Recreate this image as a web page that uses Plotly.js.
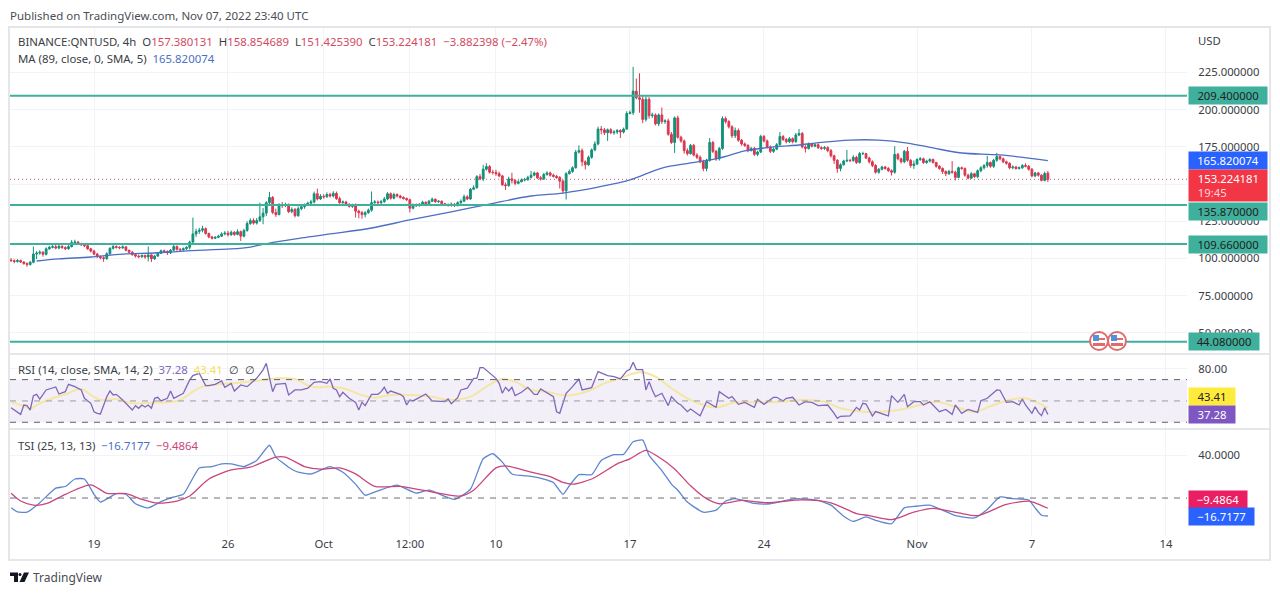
<!DOCTYPE html>
<html>
<head>
<meta charset="utf-8">
<script src="https://cdn.plot.ly/plotly-3.0.1.min.js"></script>
<style>html,body{margin:0;padding:0;background:#fff;overflow:hidden}#chart{width:1280px;height:595px}</style>
</head>
<body>
<div id="chart"></div>
<script>
// Candles: 4h bars, first bar 2022-09-14 16:00 UTC. Rows are calendar days.
const closes = [98.5,98.0,
98.6,97.6,96.6,96.0,97.5,103.0,
103.6,104.2,102.8,106.5,107.5,107.9,
107.0,108.2,107.4,106.6,108.0,110.8,
111.0,110.0,109.3,108.6,106.5,105.0,
103.0,101.2,100.5,100.0,103.2,106.8,
108.0,107.5,107.2,107.8,105.5,104.2,
102.6,101.6,101.2,102.0,101.0,102.4,
99.8,101.6,103.4,105.2,104.8,103.8,
105.6,108.0,106.2,105.8,106.6,107.5,
111.0,116.5,118.2,119.0,120.0,116.8,
114.5,113.6,114.2,115.0,116.5,117.0,
116.0,117.6,116.2,118.0,115.0,118.8,
123.5,125.5,123.8,125.5,128.0,130.5,
137.5,141.0,131.0,129.5,136.0,135.5,
135.8,131.5,133.0,128.8,133.5,134.8,
136.0,137.2,138.0,143.5,140.0,141.8,
141.5,143.0,142.0,143.8,140.2,137.5,
138.0,136.2,135.0,136.0,131.8,130.8,
129.5,130.8,132.5,137.5,138.0,137.5,
138.2,140.0,143.5,140.5,143.0,142.0,
141.0,140.3,139.5,133.8,136.2,135.5,
136.5,137.8,136.8,138.5,139.8,138.2,
138.5,136.8,136.2,135.8,136.5,135.5,
137.5,138.5,141.5,140.0,146.5,147.5,
155.0,153.5,160.0,161.8,158.0,157.8,
157.0,155.5,149.5,149.0,153.5,152.5,
150.5,151.5,152.8,153.0,154.5,156.0,
157.5,154.2,153.5,156.5,157.5,156.0,
155.2,154.5,152.0,145.5,157.0,158.5,
161.0,171.5,172.5,165.0,163.0,168.0,
173.0,177.0,187.0,186.5,184.5,186.5,
184.5,185.0,186.0,185.0,187.0,197.5,
198.0,212.5,208.0,207.0,193.5,207.0,
196.0,196.5,190.5,196.5,192.0,192.5,
183.5,178.0,194.5,181.5,179.0,172.5,
170.5,176.0,169.5,168.0,165.0,160.5,
166.0,178.0,172.0,167.0,174.0,194.0,
192.0,188.5,182.5,186.0,179.5,177.0,
176.0,172.5,174.0,170.0,171.5,182.0,
179.0,175.0,172.0,173.5,176.5,182.0,
180.0,178.5,180.5,178.5,183.0,184.0,
175.0,174.0,177.0,175.5,176.5,174.5,
174.0,174.5,172.5,169.0,166.0,160.5,
163.0,165.5,166.0,165.8,168.0,164.5,
170.5,170.5,167.5,165.0,162.5,158.0,
160.0,161.5,160.5,159.0,158.0,170.0,
167.0,165.0,172.0,166.0,162.5,163.5,
166.5,167.0,164.5,165.5,166.5,164.5,
162.0,160.5,158.5,157.0,158.5,158.0,
154.5,161.0,160.5,156.0,154.0,157.0,
155.0,159.0,161.0,162.5,164.5,162.0,
166.0,168.5,167.0,165.0,164.0,161.0,
161.5,160.5,161.0,162.5,162.0,160.0,
155.5,157.5,156.0,152.5,157.1,153.224181];

const opens = [98.9,98.5,
98.0,98.6,97.6,96.6,96.0,97.5,
103.0,103.6,104.2,102.8,106.5,107.5,
107.9,107.0,108.2,107.4,106.6,108.0,
110.8,111.0,110.0,109.3,108.6,106.5,
105.0,103.0,101.2,100.5,100.0,103.2,
106.8,108.0,107.5,107.2,107.8,105.5,
104.2,102.6,101.6,101.2,102.0,101.0,
102.4,99.8,101.6,103.4,105.2,104.8,
103.8,105.6,108.0,106.2,105.8,106.6,
107.5,111.0,116.5,118.2,119.0,120.0,
116.8,114.5,113.6,114.2,115.0,116.5,
117.0,116.0,117.6,116.2,118.0,115.0,
118.8,123.5,125.5,123.8,125.5,128.0,
130.5,137.5,141.0,131.0,129.5,136.0,
135.5,135.8,131.5,133.0,128.8,133.5,
134.8,136.0,137.2,138.0,143.5,140.0,
141.8,141.5,143.0,142.0,143.8,140.2,
137.5,138.0,136.2,135.0,136.0,131.8,
130.8,129.5,130.8,132.5,137.5,138.0,
137.5,138.2,140.0,143.5,140.5,143.0,
142.0,141.0,140.3,139.5,133.8,136.2,
135.5,136.5,137.8,136.8,138.5,139.8,
138.2,138.5,136.8,136.2,135.8,136.5,
135.5,137.5,138.5,141.5,140.0,146.5,
147.5,155.0,153.5,160.0,161.8,158.0,
157.8,157.0,155.5,149.5,149.0,153.5,
152.5,150.5,151.5,152.8,153.0,154.5,
156.0,157.5,154.2,153.5,156.5,157.5,
156.0,155.2,154.5,152.0,145.5,157.0,
158.5,161.0,171.5,172.5,165.0,163.0,
168.0,173.0,177.0,187.0,186.5,184.5,
186.5,184.5,185.0,186.0,185.0,187.0,
197.5,198.0,212.5,208.0,207.0,193.5,
207.0,196.0,196.5,190.5,196.5,192.0,
192.5,183.5,178.0,194.5,181.5,179.0,
172.5,170.5,176.0,169.5,168.0,165.0,
160.5,166.0,178.0,172.0,167.0,174.0,
194.0,192.0,188.5,182.5,186.0,179.5,
177.0,176.0,172.5,174.0,170.0,171.5,
182.0,179.0,175.0,172.0,173.5,176.5,
182.0,180.0,178.5,180.5,178.5,183.0,
184.0,175.0,174.0,177.0,175.5,176.5,
174.5,174.0,174.5,172.5,169.0,166.0,
160.5,163.0,165.5,166.0,165.8,168.0,
164.5,170.5,170.5,167.5,165.0,162.5,
158.0,160.0,161.5,160.5,159.0,158.0,
170.0,167.0,165.0,172.0,166.0,162.5,
163.5,166.5,167.0,164.5,165.5,166.5,
164.5,162.0,160.5,158.5,157.0,158.5,
158.0,154.5,161.0,160.5,156.0,154.0,
157.0,155.0,159.0,161.0,162.5,164.5,
162.0,166.0,168.5,167.0,165.0,164.0,
161.0,161.5,160.5,161.0,162.5,162.0,
160.0,155.5,157.5,156.0,152.5,157.380131];

const highs = [100.2,99.4,
99.6,99.3,98.2,97.4,98.4,108.0,
105.0,105.5,105.0,107.5,108.6,109.0,
109.2,109.5,108.8,108.2,109.0,112.4,
112.6,111.8,110.6,110.0,109.2,107.2,
105.8,103.8,102.0,101.4,104.2,107.6,
109.2,108.8,108.2,108.8,108.4,106.0,
105.0,103.2,102.6,102.8,102.6,108.0,
102.8,102.4,104.2,106.0,106.0,105.4,
106.4,109.4,108.8,107.0,107.4,108.2,
112.0,127.5,120.0,120.6,122.0,120.8,
117.4,115.2,115.0,116.0,117.6,118.4,
118.6,118.8,118.4,119.6,118.8,120.0,
125.0,127.0,127.0,127.2,137.5,134.0,
138.5,144.8,142.0,133.5,137.2,138.0,
137.5,137.0,134.4,134.0,135.0,136.0,
137.0,138.2,139.5,145.0,147.0,143.2,
143.2,144.4,144.2,145.2,145.0,141.6,
139.0,138.8,137.2,136.8,137.0,132.8,
132.0,131.8,133.6,145.0,139.2,139.0,
139.4,141.4,144.6,144.4,144.2,143.8,
142.8,141.8,141.0,140.2,137.0,137.0,
137.2,138.8,138.4,139.4,141.0,140.4,
139.2,139.0,137.4,137.0,137.6,137.2,
138.4,139.8,143.0,142.6,147.4,149.2,
156.0,156.8,163.0,164.0,162.8,159.6,
159.6,158.4,156.2,151.0,155.0,157.6,
153.2,152.6,153.8,154.2,155.6,158.8,
158.4,158.2,155.4,157.6,158.6,158.4,
157.0,156.2,155.4,153.0,158.0,159.8,
162.0,173.0,176.0,174.0,166.0,169.2,
174.0,178.8,188.6,189.0,187.8,187.4,
187.6,186.2,187.0,187.0,188.0,199.0,
199.5,228.8,221.0,224.5,209.0,209.0,
208.5,198.0,197.5,197.5,201.5,193.6,
194.0,185.0,195.5,196.0,182.5,180.0,
174.0,177.0,177.0,170.8,169.2,166.4,
167.0,181.0,179.0,173.0,175.0,195.6,
195.4,193.0,189.6,188.0,187.4,180.4,
178.0,176.8,175.0,175.0,172.4,183.2,
183.0,180.0,176.0,174.6,177.6,185.0,
183.0,181.0,181.6,181.4,184.4,187.0,
185.0,176.2,178.0,177.8,177.4,177.4,
175.4,175.6,175.4,173.6,169.8,166.8,
164.0,166.4,173.0,167.0,169.4,169.0,
171.6,171.8,171.0,168.4,166.0,163.4,
160.8,162.4,162.2,161.4,160.0,175.5,
171.0,167.8,173.0,175.0,166.8,165.8,
167.4,168.2,167.8,166.4,167.4,167.2,
165.0,162.8,161.2,159.2,159.6,165.5,
159.0,161.8,161.8,161.2,157.0,158.0,
157.6,159.8,162.0,163.4,169.0,165.2,
167.0,171.0,169.2,167.8,165.8,164.6,
162.6,162.2,161.8,163.4,164.0,162.8,
160.8,158.2,158.2,156.6,158.4,158.854689];

const lows = [98.0,96.8,
97.2,96.9,95.8,94.4,95.2,96.8,
99.6,102.6,101.2,102.0,105.8,106.8,
106.2,106.2,106.4,105.6,105.9,107.4,
110.0,109.2,108.4,107.6,105.8,104.0,
102.2,100.2,99.4,97.8,99.0,102.4,
106.0,106.6,106.2,106.4,104.8,103.2,
101.8,100.6,100.2,100.4,99.8,98.0,
97.6,99.0,101.2,103.2,103.6,102.4,
103.0,105.0,105.2,104.6,105.0,105.8,
106.0,110.0,114.5,116.5,117.6,116.0,
113.6,112.8,113.0,113.6,114.4,115.6,
114.8,115.2,115.2,115.6,111.8,114.2,
118.0,122.6,122.8,122.8,124.5,123.0,
128.5,136.5,129.8,128.0,129.0,134.0,
134.5,130.5,130.4,127.6,128.0,132.4,
133.4,135.4,136.6,137.0,139.0,139.4,
140.2,140.8,141.0,141.0,139.4,136.8,
136.8,135.4,134.2,134.0,127.5,127.0,
126.8,127.6,130.0,131.5,136.8,136.6,
136.6,137.4,139.2,139.6,139.8,141.0,
140.2,139.6,138.6,131.0,133.0,134.6,
134.8,135.8,136.0,136.2,138.0,137.4,
137.4,136.0,135.4,134.8,134.8,134.6,
135.0,136.6,138.0,139.2,139.4,146.0,
147.0,152.6,152.0,159.0,157.0,156.4,
155.6,154.6,148.8,146.0,148.2,150.4,
149.2,149.8,151.6,151.8,152.2,153.8,
155.2,153.4,152.4,152.8,155.6,155.0,
154.4,153.6,147.0,143.8,139.6,156.4,
157.6,160.4,170.6,162.0,159.8,162.2,
167.0,172.0,176.0,183.5,183.0,179.0,
183.6,183.2,183.6,181.0,184.0,186.5,
197.0,196.5,207.0,198.0,191.0,192.0,
194.0,194.5,189.5,189.0,190.5,190.5,
182.5,177.0,171.0,180.5,177.8,170.5,
169.2,169.8,168.6,166.8,164.0,158.6,
158.6,165.0,170.8,165.6,165.8,173.0,
190.6,187.4,181.0,181.0,178.4,175.8,
175.0,171.4,172.0,169.0,168.8,170.8,
178.0,174.0,170.8,171.0,172.8,175.8,
179.0,177.4,177.6,177.4,177.8,182.2,
174.0,171.2,173.2,174.6,174.8,173.6,
173.0,173.0,171.4,167.8,163.6,157.6,
158.6,162.4,164.8,164.8,165.0,163.6,
163.8,169.6,166.8,163.8,161.4,157.0,
157.0,159.2,159.6,158.2,155.8,157.0,
166.0,163.8,164.0,165.0,161.0,160.2,
162.8,165.6,163.6,163.6,164.6,163.8,
161.0,159.6,156.8,155.4,156.2,157.0,
152.5,154.0,159.6,155.0,153.2,153.4,
154.2,154.0,158.0,159.8,161.0,161.0,
160.8,165.0,166.0,164.0,163.0,160.0,
160.0,159.6,159.8,160.2,161.2,159.0,
154.6,154.6,155.0,151.8,151.8,151.425390];

// Moving average: bar number, value
const maBars = [8,15,25,35,45,54,69,75,81,91,100,113,125,138,150,163,173,184,194,204,213,222,230,239,247,252,263,272,281,289,298,310,325];
const maValues = [98.3,99.7,101,103,103.7,105,106.4,107.7,110.4,113.8,116.5,120.5,125.9,131.3,136.6,142,144,148,152.8,160.8,164.2,167.5,172.3,175,176.3,177.6,179.6,179.6,177.6,174.3,170.9,169.6,165.82];

// RSI line: bar number, value
const rsiBars = [0,2,3,4,5,6,7,8,9,11,14,15,17,18,20,22,23,25,26,27,28,30,31,32,33,35,38,39,40,41,42,43,44,45,46,47,49,50,51,54,56,57,59,61,62,64,66,67,69,70,72,74,77,79,80,82,83,86,87,89,91,93,95,97,99,100,
101,102,103,104,106,108,109,110,111,113,115,116,117,118,119,122,123,124,125,126,130,132,136,137,138,140,141,143,145,146,147,148,152,153,154,155,156,157,158,160,162,164,165,166,169,170,171,172,174,176,178,179,182,184,187,189,191,193,194,195,196,198,199,200,201,202,204,206,207,209,210,212,213,
216,218,221,222,225,226,228,230,233,234,236,239,240,242,243,245,247,249,251,253,256,258,259,260,263,265,266,267,268,270,271,275,276,278,280,281,283,285,286,288,291,293,295,296,298,300,303,304,306,309,310,312,314,316,317,318,320,321,322,323,324,325];
const rsiValues = [43.7,39.9,37.4,46.2,45.6,41.5,55.0,56.2,51.8,60.3,63.1,56.5,58.7,65.6,63.4,60.3,52.5,47.8,39.9,38.4,37.8,54.0,59.3,55.6,56.2,50.9,41.5,45.6,43.1,46.2,44.3,46.2,43.1,52.5,53.4,50.0,52.5,59.3,52.5,57.2,69.7,73.7,75.9,64.4,64.4,65.6,68.7,62.8,66.5,59.3,65.0,63.4,71.2,79.1,85.3,58.7,65.6,66.5,55.6,60.3,60.3,61.9,67.5,68.1,66.5,70.6,
61.9,60.3,54.0,58.1,52.5,48.7,41.5,48.7,45.6,56.2,56.2,58.7,62.8,57.2,59.3,56.2,54.0,46.2,50.9,50.0,56.5,50.0,49.4,51.8,47.4,53.1,60.3,61.9,71.2,71.2,81.3,81.3,71.2,66.5,57.2,62.8,59.3,62.8,55.0,58.1,62.8,56.2,56.2,61.2,56.2,54.0,39.9,38.4,57.2,63.4,70.6,60.3,62.5,77.5,73.7,72.8,70.6,78.1,79.7,86.3,79.4,79.4,60.3,68.1,60.3,54.0,57.2,45.6,54.0,47.8,46.2,39.9,42.4,
36.2,49.3,44.0,58.7,52.5,54.0,46.8,48.7,44.0,51.5,46.8,53.4,53.4,50.0,52.5,53.4,46.2,49.3,48.7,45.6,46.2,38.4,33.7,35.6,35.9,44.0,41.5,47.8,47.1,35.9,40.0,35.9,55.0,48.7,56.2,44.6,49.3,49.3,46.2,49.3,39.9,42.1,37.4,46.2,38.4,42.1,39.3,50.3,52.5,60.3,60.0,48.7,49.3,46.2,51.8,46.2,38.4,44.6,39.3,36.2,43.7,37.28];

// RSI smoothing line
const smaBars = [0,3,6,9,13,17,22,25,28,33,38,44,49,53,57,60,65,70,76,84,89,94,100,104,110,114,119,125,132,137,144,149,154,158,163,168,174,181,186,191,197,202,207,213,221,227,234,241,248,255,260,267,273,278,285,290,296,302,308,313,318,325];
const smaValues = [48.7,46.2,43.1,47.8,52.5,56.2,61.2,55.6,50.9,51.8,47.8,48.4,48.7,50.9,58.7,63.4,65.6,66.5,68.7,71.2,70.6,63.4,63.4,61.9,55.6,53.1,55.6,55.6,54.0,50.9,54.0,63.4,70.6,68.1,60.3,58.7,55.0,59.3,66.5,71.2,76.9,72.8,61.9,50.9,44.0,48.7,48.7,49.3,50.9,49.3,43.1,39.9,39.9,41.5,46.2,49.3,44.6,39.9,46.2,50.9,52.5,43.41];

// True strength index and its signal
const tsiBars = [0,2,5,9,14,17,20,23,26,28,33,36,39,43,47,51,54,59,63,66,69,73,77,81,83,87,90,94,100,104,108,111,115,121,127,131,139,144,148,151,154,157,163,
167,170,173,175,178,182,185,189,192,195,198,200,204,207,209,212,217,221,224,227,233,238,246,253,257,261,264,268,271,276,280,283,288,296,302,306,310,314,319,321,323,325];
const tsiValues = [-9.1,-12.9,-13.2,-4.4,9.2,10.7,17.7,17.7,3.5,-3.7,4.1,3.5,-5.3,-9.1,-3.4,1.0,3.5,28.0,29.3,31.8,31.8,29.3,35.0,49.1,38.1,28.7,24.0,22.4,29.3,24.0,12.9,2.6,6.7,12.0,4.5,7.3,-1.2,8.2,36.5,41.2,33.4,22.4,20.2,
17.7,14.5,3.5,11.4,21.7,21.7,35.0,40.3,40.6,52.3,53.8,39.7,25.5,13.0,7.3,-3.7,-13.2,-11.3,-2.8,-0.6,-5.0,-5.3,-0.6,-2.2,-6.6,-16.9,-21.7,-17.6,-20.7,-23.9,-9.1,-7.8,-6.6,-16.3,-18.5,-10.6,1.0,-0.6,-1.8,-9.1,-16.0,-16.7177];
const signalBars = [0,3,7,11,17,25,30,36,41,46,52,56,62,69,75,83,86,92,97,103,108,114,122,129,141,145,152,155,163,169,173,176,182,190,194,199,203,208,213,218,222,229,237,248,257,265,269,276,283,289,297,303,312,319,321,325];
const signalValues = [4.4,-2.8,-6.6,-5.3,3.5,12.3,4.4,4.1,-1.2,-4.7,-2.8,1.9,17.7,26.2,28.7,38.1,38.1,29.3,26.8,28.0,22.4,10.8,10.8,7.3,1.9,7.3,28.0,29.9,24.0,19.9,14.5,12.9,17.7,31.8,36.5,44.4,38.1,27.1,11.4,-0.6,-5.3,-2.2,-4.4,-1.8,-4.4,-14.4,-16.3,-20.1,-13.2,-9.7,-13.8,-16.3,-5.9,-2.8,-4.4,-9.4864];

// Horizontal support / resistance levels and axis labels
const levels = [209.4,135.87,109.66,44.08];
const levelLabels = ['209.400000','135.870000','109.660000','44.080000'];
const lastClose = 153.224181, lastMA = 165.820074, lastRSI = 37.28, lastSMA = 43.41, lastTSI = -16.7177, lastSignal = -9.4864;
const priceTicks = [50,75,100,125,150,175,200,225];
const priceTickText = ['50.000000','75.000000','100.000000','125.000000','','175.000000','200.000000','225.000000'];
const timeTicks = ['2022-09-19','2022-09-26','2022-10-01','2022-10-05 12:00','2022-10-10','2022-10-17','2022-10-24','2022-11-01','2022-11-07','2022-11-14'];
const timeTickText = ['19','26','Oct','12:00','10','17','24','Nov','7','14'];

const FONT = '"Noto Sans", sans-serif';
const W = 1280, H = 595;
const px = x => x / W, py = y => 1 - y / H;
const barTime = i => new Date(Date.UTC(2022, 8, 14, 16) + i * 4 * 3600000).toISOString().slice(0, 19).replace('T', ' ');
const times = closes.map((_, i) => barTime(i));
const atBars = list => list.map(barTime);

const traces = [
  {type:'candlestick', x:times, open:opens, high:highs, low:lows, close:closes, xaxis:'x', yaxis:'y',
   increasing:{line:{color:'#13907a',width:1}, fillcolor:'#13907a'},
   decreasing:{line:{color:'#d9384f',width:1}, fillcolor:'#d9384f'},
   whiskerwidth:0, hoverinfo:'skip', showlegend:false},
  {type:'scatter', mode:'lines', x:atBars(maBars), y:maValues, yaxis:'y', line:{color:'#4b6fc4',width:1.3,shape:'spline'}, hoverinfo:'skip'},
  {type:'scatter', mode:'lines', x:atBars(smaBars), y:smaValues, yaxis:'y2', line:{color:'#f5e6a3',width:2,shape:'spline'}, hoverinfo:'skip'},
  {type:'scatter', mode:'lines', x:atBars(rsiBars), y:rsiValues, yaxis:'y2', line:{color:'#8068b8',width:1.3}, hoverinfo:'skip'},
  {type:'scatter', mode:'lines', x:atBars(tsiBars), y:tsiValues, yaxis:'y3', line:{color:'#5e86cf',width:1.3,shape:'spline',smoothing:0.5}, hoverinfo:'skip'},
  {type:'scatter', mode:'lines', x:atBars(signalBars), y:signalValues, yaxis:'y3', line:{color:'#c9457c',width:1.3,shape:'spline',smoothing:0.7}, hoverinfo:'skip'}
];

const GREEN = '#3fb09c', LEFT = 10, RIGHT = 1187;
const shapes = [];
// Reference levels
levels.forEach(v => shapes.push({type:'line', xref:'paper', yref:'y', x0:px(LEFT), x1:px(RIGHT), y0:v, y1:v, layer:'above', line:{color:GREEN,width:2}}));
shapes.push({type:'line', xref:'paper', yref:'y', x0:px(LEFT), x1:px(RIGHT), y0:lastClose, y1:lastClose, layer:'above', line:{color:'#c9596b',width:1,dash:'1px,3px'}});
// RSI band and levels
shapes.push({type:'rect', xref:'paper', yref:'y2', x0:px(LEFT), x1:px(RIGHT), y0:30, y1:70, layer:'below', line:{width:0}, fillcolor:'#f2eff9'});
[[70,'#5d6068'],[50,'#9a9ca4'],[30,'#5d6068']].forEach(([v,c]) => shapes.push({type:'line', xref:'paper', yref:'y2', x0:px(LEFT), x1:px(RIGHT), y0:v, y1:v, layer:'above', line:{color:c,width:1,dash:'6px,6px'}}));
shapes.push({type:'line', xref:'paper', yref:'y3', x0:px(LEFT), x1:px(RIGHT), y0:0, y1:0, layer:'above', line:{color:'#6d7078',width:1,dash:'6px,6px'}});
// Frame and pane separators
const border = '#e4e6ea';
shapes.push({type:'rect', xref:'paper', yref:'paper', x0:px(9), x1:px(1270), y0:py(27), y1:py(560), layer:'above', line:{color:border,width:2}});
[354,429].forEach(y => shapes.push({type:'line', xref:'paper', yref:'paper', x0:px(9), x1:px(1270), y0:py(y), y1:py(y), layer:'above', line:{color:border,width:2}}));
// Event badges
[1099,1117].forEach(cx => {
  const cy = 341, r = 9;
  shapes.push({type:'circle', xref:'paper', yref:'paper', x0:px(cx-r), x1:px(cx+r), y0:py(cy+r), y1:py(cy-r), layer:'above', fillcolor:'#ffffff', line:{color:'#e06b6b',width:2}});
  shapes.push({type:'rect', xref:'paper', yref:'paper', x0:px(cx-6), x1:px(cx), y0:py(cy+0), y1:py(cy-6), layer:'above', fillcolor:'#4f93dc', line:{width:0}});
  shapes.push({type:'rect', xref:'paper', yref:'paper', x0:px(cx), x1:px(cx+6), y0:py(cy-1), y1:py(cy-3), layer:'above', fillcolor:'#e06b6b', line:{width:0}});
  shapes.push({type:'rect', xref:'paper', yref:'paper', x0:px(cx-6), x1:px(cx+6), y0:py(cy+5), y1:py(cy+2), layer:'above', fillcolor:'#e06b6b', line:{width:0}});
});
// TradingView logo
shapes.push({type:'path', xref:'paper', yref:'paper', layer:'above', line:{width:0}, fillcolor:'#131722',
  path:`M${px(10)},${py(572.5)} L${px(18)},${py(572.5)} L${px(18)},${py(582)} L${px(14)},${py(582)} L${px(14)},${py(576)} L${px(10)},${py(576)} Z`});
shapes.push({type:'circle', xref:'paper', yref:'paper', layer:'above', line:{width:0}, fillcolor:'#131722', x0:px(18.5), x1:px(21.5), y0:py(576), y1:py(573)});
shapes.push({type:'path', xref:'paper', yref:'paper', layer:'above', line:{width:0}, fillcolor:'#131722',
  path:`M${px(24)},${py(572.5)} L${px(29)},${py(572.5)} L${px(24.5)},${py(582)} L${px(19.5)},${py(582)} Z`});

const note = (x, y, text, size, color) => ({xref:'paper', yref:'paper', x:px(x-2), y:py(y), xanchor:'left', yanchor:'middle', text, showarrow:false, font:{family:FONT,size:size||11.3,color:color||'#3a3d45'}});
const badge = (yref, v, text, bg, color, w, h, shift, align) => ({xref:'paper', yref, x:px(1188), y:v, xanchor:'left', yanchor:'middle', yshift:shift||0, text, showarrow:false,
  bgcolor:bg, width:w, height:h, borderpad:0, align:align||'center', font:{family:FONT,size:11.3,color}});

const RED = '#d24a5f';
const span = (c, t) => `<span style="color:${c}">${t}</span>`;
const annotations = [
  note(10, 15, 'Published on TradingView.com, Nov 07, 2022 23:40 UTC', 11.5, '#4a4d55'),
  note(18, 42, `BINANCE:QNTUSD, 4h  O${span(RED,'157.380131')}  H${span(RED,'158.854689')}  L${span(RED,'151.425390')}  C${span(RED,'153.224181')}  ${span(RED,'−3.882398 (−2.47%)')}`, 11.4),
  note(18, 59, `MA (89, close, 0, SMA, 5)  ${span('#4b6fc4','165.820074')}`, 11.4),
  note(18, 369, `RSI (14, close, SMA, 14, 2)  ${span('#8068b8','37.28')}  ${span('#f2e15a','43.41')}  ${span('#333','∅')}  ${span('#333','∅')}`, 11.4),
  note(18, 445, `TSI (25, 13, 13)  ${span('#4b6fc4','−16.7177')}  ${span('#c9457c','−9.4864')}`, 11.4),
  note(33, 577, 'TradingView', 12, '#4a4d55'),
  note(1198, 41, 'USD', 11.3, '#3a3d45'),
  badge('y', levels[0], levelLabels[0], GREEN, '#222', 78, 17),
  badge('y', lastMA, lastMA.toFixed(6), '#2962ff', '#fff', 78, 17),
  badge('y', lastClose, '&nbsp;&nbsp;&nbsp;153.224181<br>&nbsp;&nbsp;&nbsp;' + span('#ffd5da','19:45'), '#f23645', '#fff', 78, 31, -6, 'left'),
  badge('y', levels[1], levelLabels[1], GREEN, '#222', 78, 17, -6),
  badge('y', levels[2], levelLabels[2], GREEN, '#222', 78, 17),
  badge('y', levels[3], levelLabels[3], GREEN, '#222', 70, 17),
  badge('y2', lastSMA, '43.41', '#ffeb3b', '#222', 46, 17, 11),
  badge('y2', lastRSI, '37.28', '#7e57c2', '#fff', 46, 17),
  badge('y3', lastSignal, '−9.4864', '#e91e63', '#fff', 58, 17, 9),
  badge('y3', lastTSI, '−16.7177', '#2962ff', '#fff', 65, 17)
];

const yBase = {side:'right', anchor:'x', showline:false, zeroline:false, fixedrange:true, showgrid:true, gridcolor:'#f1f3f7', gridwidth:1,
  tickmode:'array', ticks:'outside', ticklen:8, tickcolor:'rgba(0,0,0,0)', tickfont:{family:FONT,size:11.3,color:'#3a3d45'}};

const layout = {
  width:W, height:H, margin:{l:0,r:0,t:0,b:0}, paper_bgcolor:'#fff', plot_bgcolor:'#fff', showlegend:false, hovermode:false, dragmode:false, boxgap:0.2,
  xaxis:{type:'date', domain:[px(LEFT),px(RIGHT)], anchor:'y3', range:['2022-09-14 14:40','2022-11-15 02:28'], rangeslider:{visible:false},
    tickmode:'array', tickvals:timeTicks, ticktext:timeTickText, showgrid:true, gridcolor:'#f1f3f7', gridwidth:1, zeroline:false, showline:false, ticks:'',
    tickfont:{family:FONT,size:11.3,color:'#3a3d45'}, fixedrange:true},
  yaxis:Object.assign({}, yBase, {domain:[py(354),py(27)], range:[35.8,255.6], tickvals:priceTicks, ticktext:priceTickText}),
  yaxis2:Object.assign({}, yBase, {domain:[py(429),py(354)], range:[23.7,94], tickvals:[40,80], ticktext:['','80.00']}),
  yaxis3:Object.assign({}, yBase, {domain:[py(536),py(429)], range:[-35.3,64.2], tickvals:[40], ticktext:['40.0000']}),
  shapes, annotations
};

Plotly.newPlot('chart', traces, layout, {displayModeBar:false, staticPlot:true});
</script>
</body>
</html>
